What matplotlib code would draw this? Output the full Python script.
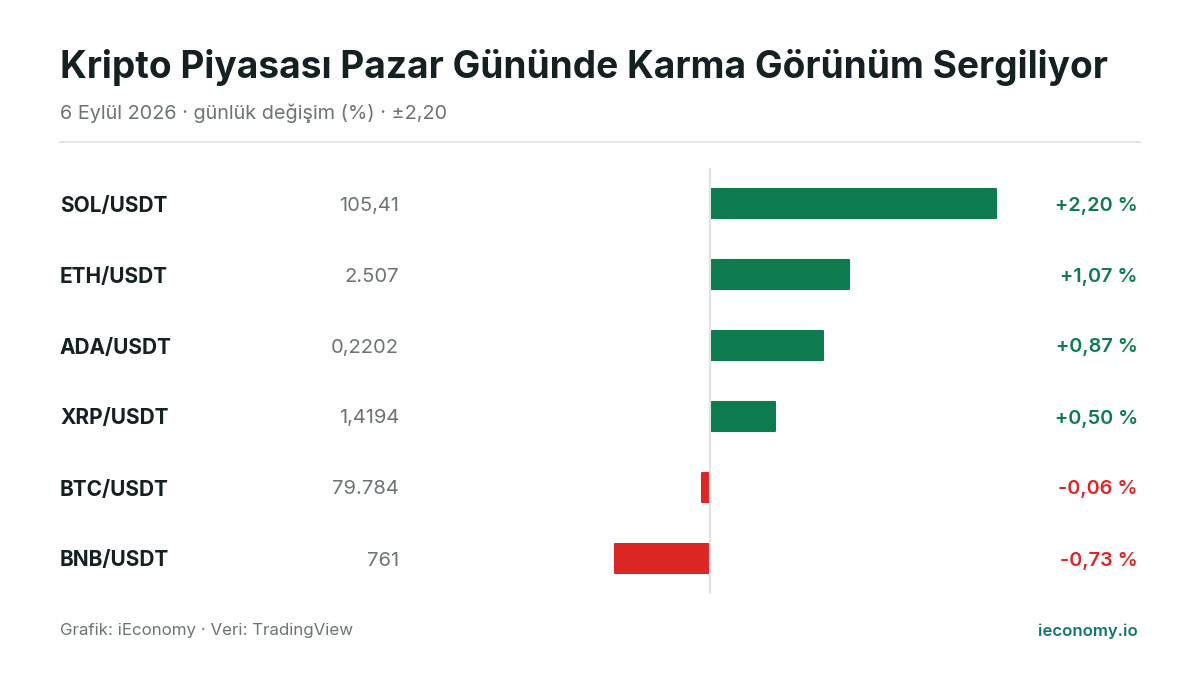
import matplotlib
matplotlib.use("Agg")
import matplotlib.pyplot as plt
import numpy as np

plt.rcParams['font.family'] = ['Inter', 'DejaVu Sans']

pairs = ['SOL/USDT', 'ETH/USDT', 'ADA/USDT', 'XRP/USDT', 'BTC/USDT', 'BNB/USDT']
prices = ['105,41', '2.507', '0,2202', '1,4194', '79.784', '761']
changes = [2.20, 1.07, 0.87, 0.50, -0.06, -0.73]
change_labels = ['+2,20 %', '+1,07 %', '+0,87 %', '+0,50 %', '-0,06 %', '-0,73 %']

GREEN = '#0d7b4f'
RED = '#dc2626'
DARK = '#152022'
GRAY = '#6b7375'

fig = plt.figure(figsize=(12, 6.75), dpi=100)
fig.patch.set_facecolor('white')

# title + subtitle
fig.text(60/1200, 1-67/675, 'Kripto Piyasası Pazar Gününde Karma Görünüm Sergiliyor',
         fontsize=26.7, fontweight='bold', color=DARK, va='center', ha='left')
fig.text(60/1200, 1-113/675, '6 Eylül 2026 · günlük değişim (%) · ±2,20',
         fontsize=14.3, color=GRAY, va='center', ha='left')
fig.add_artist(plt.Line2D([60/1200, 1140/1200], [1-142/675, 1-142/675],
                          color='#dfe4e4', lw=1.3))

# bars
ax = fig.add_axes([420/1200, 1-594/675, 580/1200, 426/675])
y = np.arange(len(pairs))
colors = [GREEN if c >= 0 else RED for c in changes]
ax.barh(y, changes, height=0.41, color=colors, edgecolor=colors, linewidth=1.5,
        joinstyle='round', zorder=2)
ax.axvline(0, color='#dfe3e3', lw=1.5, zorder=3)
ax.set_xlim(-2.23, 2.23)
ax.set_ylim(len(pairs)-0.5, -0.5)
ax.axis('off')

for i in range(len(pairs)):
    yy = ax.transData.transform((0, y[i]))[1] / fig.bbox.height - 2/675
    fig.text(60/1200, yy, pairs[i], fontsize=15, fontweight='bold', color=DARK,
             va='center', ha='left')
    fig.text(399/1200, yy, prices[i], fontsize=14.5, color=GRAY, va='center', ha='right')
    fig.text(1138/1200, yy, change_labels[i], fontsize=14.3, fontweight='semibold',
             color=colors[i], va='center', ha='right')

# footer
fig.text(60/1200, 1-631/675, 'Grafik: iEconomy · Veri: TradingView',
         fontsize=12.2, color=GRAY, va='center', ha='left')
fig.text(1138/1200, 1-631/675, 'ieconomy.io', fontsize=12, fontweight='semibold',
         color='#0f766e', va='center', ha='right')

fig.savefig('out.png', dpi=100, facecolor='white')
